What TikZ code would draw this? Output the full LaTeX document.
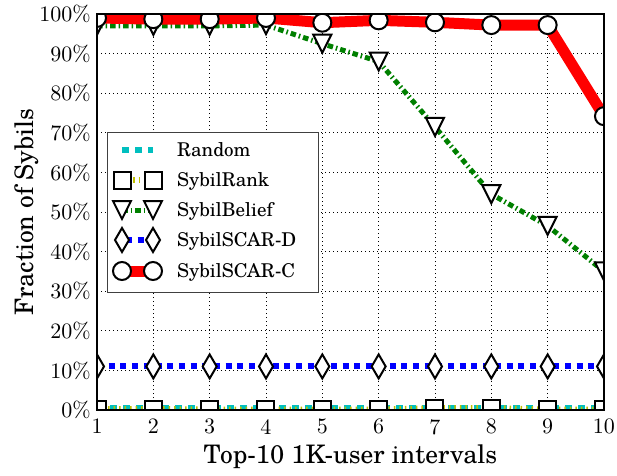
\documentclass[tikz,border=0pt]{standalone}
\usepackage{fontspec}
\newfontfamily\schola{TeX Gyre Schola}
\newfontfamily\lmten{lmroman10-regular.otf}
\usetikzlibrary{shapes.geometric}
\definecolor{cyanc}{RGB}{0,191,191}
\definecolor{olivec}{RGB}{191,191,0}
\definecolor{greenc}{RGB}{0,128,0}
\definecolor{bluec}{RGB}{0,0,255}
\definecolor{redc}{RGB}{255,0,0}
\begin{document}
\begin{tikzpicture}[x=1pt,y=1pt]
\useasboundingbox (0,0) rectangle (617,475);
\tikzset{
 gridline/.style={black, line width=0.9pt, dash pattern=on 1pt off 3pt},
 mk/.style={draw=black, fill=white, line width=2pt, inner sep=0pt},
 circmk/.style={mk, circle, minimum size=18pt},
 sqmk/.style={mk, rectangle, minimum size=17pt},
 tri/.pic={\path[mk, line join=miter] (-9pt,9pt) -- (9pt,9pt) -- (0pt,-9pt) -- cycle;},
 dia/.pic={\path[mk, line join=miter] (0pt,12pt) -- (7pt,0pt) -- (0pt,-12pt) -- (-7pt,0pt) -- cycle;},
 randline/.style={color=cyanc, line width=6pt, dash pattern=on 7pt off 6pt},
 rankline/.style={color=olivec, line width=6pt, dash pattern=on 1.5pt off 4pt},
 beliefline/.style={color=greenc, line width=5pt, dash pattern=on 5.5pt off 3pt on 1.5pt off 3pt},
 dline/.style={color=bluec, line width=6pt, dash pattern=on 6pt off 5.7pt},
 cline/.style={color=redc, line width=11pt, line join=round},
 ticklab/.style={font=\lmten\fontsize{22}{22}\selectfont, inner sep=0pt},
 leglab/.style={font=\schola\fontsize{19}{19}\selectfont, anchor=base west, inner sep=0pt},
 axlab/.style={font=\schola\fontsize{25.5}{25.5}\selectfont, inner sep=0pt},
}
\begin{scope}[shift={(97pt,65pt)}, x=56.33pt, y=3.96pt]
  % grid
  \foreach \i in {1,...,8} \draw[gridline] (\i,0) -- (\i,100);
  \foreach \v in {10,20,...,90} \draw[gridline] (0,\v) -- (9,\v);
  % coordinates
  \foreach \v [count=\i from 0] in {0.5,0.5,0.5,0.5,0.5,0.5,0.5,0.5,0.5,0.5}
    \coordinate (ra\i) at (\i,\v);
  \foreach \v [count=\i from 0] in {0.25,0.25,0.1,0.1,0.1,0.1,0.45,0.5,0.1,0.1}
    \coordinate (rk\i) at (\i,\v);
  \foreach \v [count=\i from 0] in {97,97,97,97.2,92.5,88,71.5,54.5,46.5,35}
    \coordinate (sb\i) at (\i,\v);
  \foreach \v [count=\i from 0] in {11,11,11,11,11,11,11,11,11,11}
    \coordinate (sd\i) at (\i,\v);
  \foreach \v [count=\i from 0] in {99,98.7,98.7,99,97.8,98.4,97.9,97.2,97.2,74.2}
    \coordinate (sc\i) at (\i,\v);
  \begin{scope}
    \clip (0,0) rectangle (9,100);
    % Random
    \draw[randline] (ra0) -- (ra1) -- (ra2) -- (ra3) -- (ra4) -- (ra5) -- (ra6) -- (ra7) -- (ra8) -- (ra9);
    % SybilRank
    \draw[rankline] (rk0) -- (rk1) -- (rk2) -- (rk3) -- (rk4) -- (rk5) -- (rk6) -- (rk7) -- (rk8) -- (rk9);
    \foreach \i in {0,...,9} \node[sqmk] (rkm\i) at (rk\i) {};
    % SybilBelief
    \draw[beliefline] (sb0) -- (sb1) -- (sb2) -- (sb3) -- (sb4) -- (sb5) -- (sb6) -- (sb7) -- (sb8) -- (sb9);
    \foreach \i in {0,...,9} \pic at (sb\i) {tri};
    % SybilSCAR-D
    \draw[dline] (sd0) -- (sd1) -- (sd2) -- (sd3) -- (sd4) -- (sd5) -- (sd6) -- (sd7) -- (sd8) -- (sd9);
    \foreach \i in {0,...,9} \pic at (sd\i) {dia};
    % SybilSCAR-C
    \draw[cline] (sc0) -- (sc1) -- (sc2) -- (sc3) -- (sc4) -- (sc5) -- (sc6) -- (sc7) -- (sc8) -- (sc9);
    \foreach \i in {0,...,9} \node[circmk] (scm\i) at (sc\i) {};
  \end{scope}
  % axes frame
  \draw[line width=1.3pt] (0,0) rectangle (9,100);
  % tick labels
  \foreach \v in {0,10,...,100} \node[ticklab, anchor=east] (yt\v) at ([xshift=-6pt]0,\v) {\v\%};
  \foreach \i [count=\n from 1] in {0,...,9} \node[ticklab, anchor=north] (xt\n) at ([yshift=-9pt]\i,0) {\n};
  % axis labels
  \node[axlab, anchor=base] (xlab) at ([yshift=-53pt]4.5,0) {Top-10 1K-user intervals};
  \node[axlab, rotate=90, anchor=base] (ylab) at ([xshift=-64pt]0,50) {Fraction of Sybils};
\end{scope}
% legend
\node[draw=black!75, line width=1.2pt, fill=white, minimum width=211pt, minimum height=160pt, anchor=north west, inner sep=0pt] (legbox) at (107,343) {};
\foreach \y/\n in {325/a,295/b,265/c,235/d,204/e} {
  \coordinate (l\n1) at (122,\y);
  \coordinate (l\n2) at (153,\y);
}
\draw[randline] (la1) -- (la2);
\draw[rankline] (lb1) -- (lb2);
\node[sqmk] (lbm1) at (lb1) {}; \node[sqmk] (lbm2) at (lb2) {};
\draw[beliefline] (lc1) -- (lc2);
\pic at (lc1) {tri}; \pic at (lc2) {tri};
\draw[dline] ([xshift=4pt]ld1) -- ([xshift=-4pt]ld2);
\pic at (ld1) {dia}; \pic at (ld2) {dia};
\draw[cline] (le1) -- (le2);
\node[circmk] (lem1) at (le1) {}; \node[circmk] (lem2) at (le2) {};
\node[leglab] (ta) at (177,319) {Random};
\node[leglab] (tb) at (177,289) {SybilRank};
\node[leglab] (tc) at (177,259) {SybilBelief};
\node[leglab] (td) at (177,229) {SybilSCAR-D};
\node[leglab] (te) at (177,198) {SybilSCAR-C};
\end{tikzpicture}
\end{document}
